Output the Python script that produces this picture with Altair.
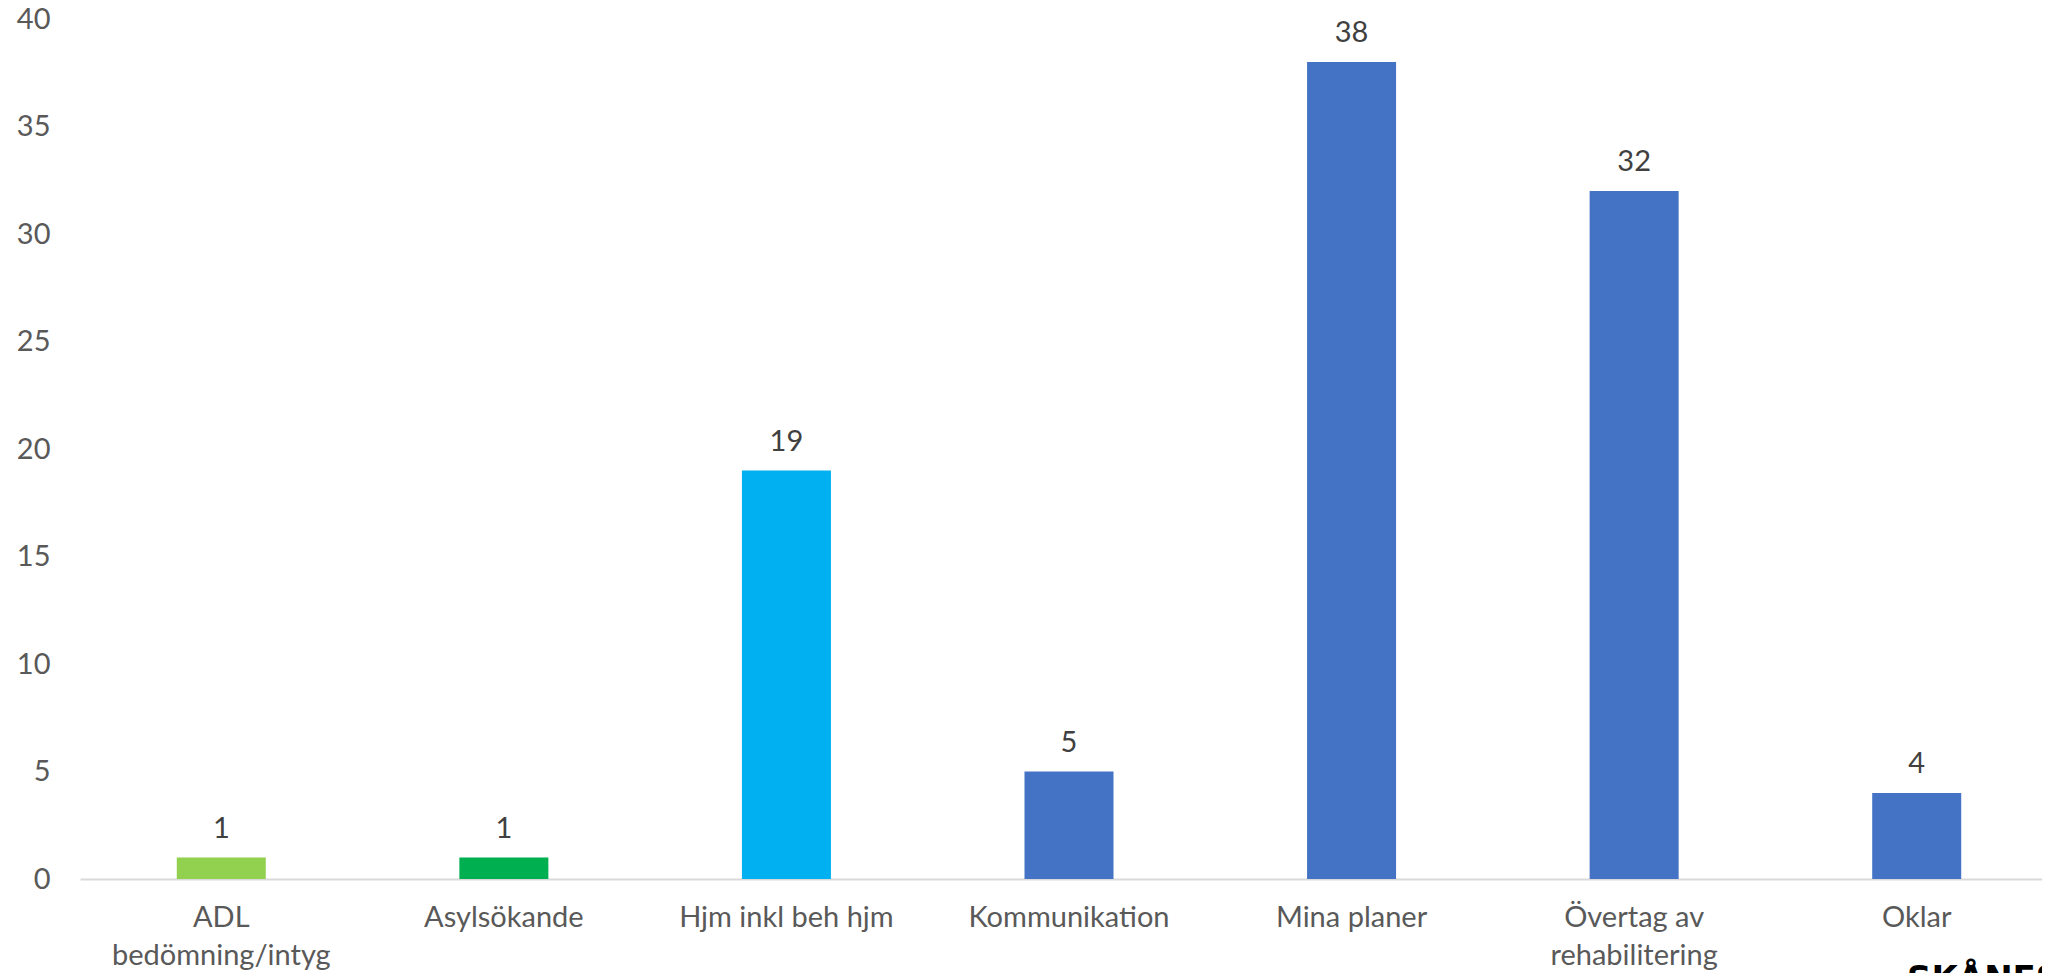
import altair as alt
import pandas as pd

categories = ["ADL\nbedömning/intyg", "Asylsökande", "Hjm inkl beh hjm", "Kommunikation",
              "Mina planer", "Övertag av\nrehabilitering", "Oklar"]
values = [1, 1, 19, 5, 38, 32, 4]
colors = ["#92D050", "#00B050", "#00B0F0", "#4472C4", "#4472C4", "#4472C4", "#4472C4"]
y_ticks = [0, 5, 10, 15, 20, 25, 30, 35, 40]

df = pd.DataFrame({"cat": categories, "val": values, "col": colors})

FONT = "Lato"

x = alt.X("cat:N", sort=categories, title=None,
          scale=alt.Scale(range=[0, 1978], paddingInner=0.685, paddingOuter=0.3425),
          axis=alt.Axis(labelAngle=0, labelExpr="split(datum.label, '\\n')",
                        labelFont=FONT, labelFontSize=29, labelColor="#595959",
                        labelLineHeight=38, labelPadding=24, labelBaseline="top",
                        ticks=False, domainColor="#D9D9D9", domainWidth=2,
                        labelLimit=400))
y = alt.Y("val:Q", title=None,
          scale=alt.Scale(domain=[0, 40], nice=False),
          axis=alt.Axis(values=y_ticks, grid=False, ticks=False, domain=False,
                        labelFont=FONT, labelFontSize=29, labelColor="#595959",
                        labelPadding=30))

bars = alt.Chart(df).mark_bar().encode(
    x=x, y=y, color=alt.Color("col:N", scale=None)
)
labels = alt.Chart(df).mark_text(
    dy=-20, baseline="alphabetic", font=FONT, fontSize=29, color="#404040"
).encode(x=x, y=y, text="val:Q")

logo = alt.Chart(pd.DataFrame({"t": ["SKÅNES"]})).mark_text(
    align="left", baseline="top", font="DejaVu Sans", fontWeight="bold",
    fontSize=34, color="#000000"
).encode(x=alt.value(1827), y=alt.value(944), text="t:N")

chart = alt.layer(bars, labels, logo).properties(
    width=1962, height=860,
    autosize=alt.AutoSizeParams(type="none"),
    padding={"left": 72, "top": 11, "right": 0, "bottom": 94},
).configure_view(stroke=None)

chart.save("out.html", embed_options={"renderer": "svg", "actions": False})
